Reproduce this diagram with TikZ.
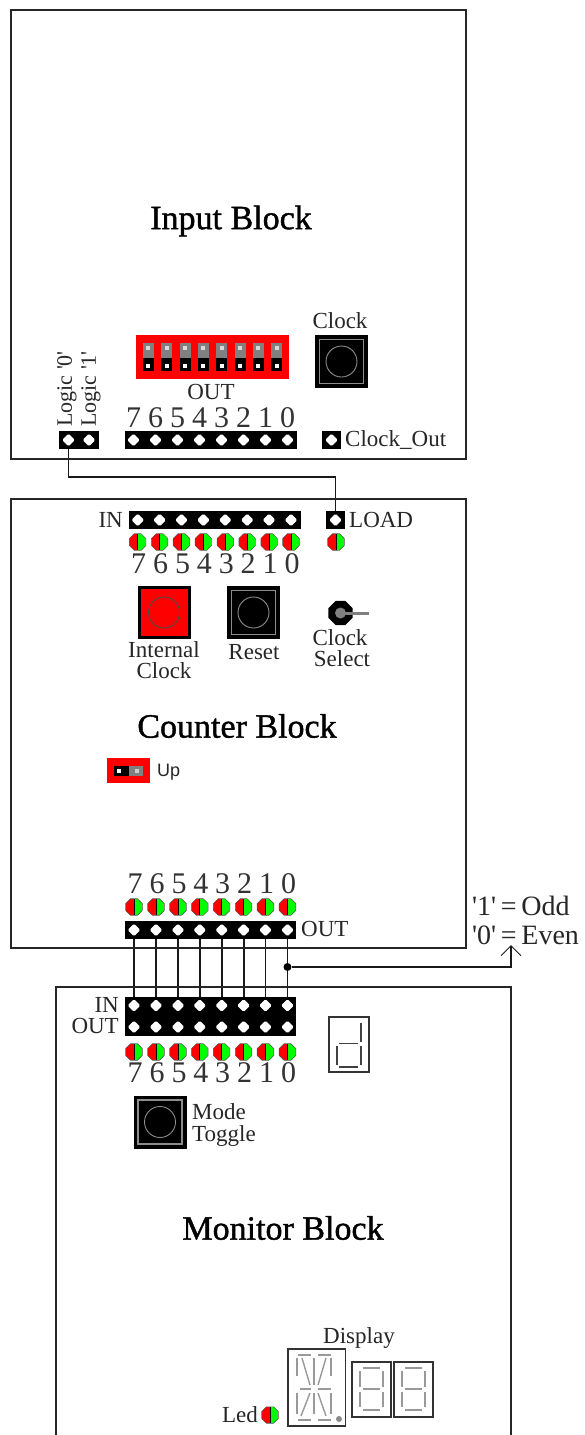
\documentclass[tikz,border=0pt]{standalone}
\usepackage{fontspec}
\setmainfont{Liberation Serif}
\newfontfamily\upfont{Liberation Sans}
\newfontfamily\titlefont[FakeBold=1.2]{Liberation Serif}
\usepackage{xcolor}
\usetikzlibrary{positioning,shapes.geometric,arrows.meta,backgrounds}

\begin{document}
\begin{tikzpicture}[
    x=1pt, y=-1pt,
    blk/.style    = {draw=black!85, line width=1.6pt},
    wire/.style   = {draw=black!90, line width=1.8pt},
    title/.style  = {font=\fontsize{34}{35}\titlefont, inner sep=0pt},
    lbl/.style    = {font=\fontsize{23}{24}\selectfont, inner sep=0pt, text=black!85},
    digit/.style  = {font=\fontsize{30}{30}\selectfont, inner sep=0pt, text=black!80},
    hdr/.style    = {rectangle, fill=black, inner sep=0pt, minimum height=18.5pt},
    pin/.style    = {diamond, fill=white, inner sep=0pt, minimum width=13pt, minimum height=13pt, rounded corners=1.5pt},
    led/.style    = {regular polygon, regular polygon sides=8, draw=black!70, line width=0.4pt,
                     inner sep=0pt, minimum size=18pt, path picture={
                       \fill[red] (path picture bounding box.south west) rectangle (path picture bounding box.north);
                       \fill[green] (path picture bounding box.south) rectangle (path picture bounding box.north east);
                       \draw[black, line width=1pt] (path picture bounding box.south) -- (path picture bounding box.north);}},
    btn/.style    = {rectangle, fill=black, inner sep=0pt, minimum size=53pt},
    frm/.style    = {rectangle, draw=black!45, line width=1.3pt, inner sep=0pt, minimum size=44pt},
    knob/.style   = {circle, draw=black!45, line width=0.9pt, inner sep=0pt, minimum size=31pt},
    seg/.style    = {draw=black!40, line width=1.4pt},
    onseg/.style  = {draw=black!75, line width=1.3pt},
    disp/.style   = {rectangle, draw=black!80, line width=1.4pt, inner sep=0pt},
]
\useasboundingbox (0,0) rectangle (584,1435);

%======== INPUT BLOCK ========
\node[blk, rectangle, inner sep=0pt, minimum width=455pt, minimum height=449pt] (inputblk) at (238.5,234.5) {};
\node[title] (inputttl) at (231,221) {Input Block};

% --- dip switches
\node[rectangle, fill=red, inner sep=0pt, minimum width=153pt, minimum height=44pt] (dipsw) at (212.5,357) {};
\foreach \x/\t in {148.3/7, 166.7/6, 185/5, 203.3/4, 221.7/3, 240/2, 258.3/1, 276.7/0} {
  \fill[black!50] (\x-5.5,343) rectangle (\x+5.5,358);
  \fill[black] (\x-5.5,358) rectangle (\x+5.5,371);
  \node[rectangle, fill=white!85!black, inner sep=0pt, minimum size=4pt] (diptop\t) at (\x,348) {};
  \node[rectangle, fill=white, inner sep=0pt, minimum size=4pt] (dipbot\t) at (\x,366) {};
}

% --- push buttons
\foreach \n/\x/\y in {clock/341.5/361.5, reset/253.5/612.5, mode/160/1122} {
  \node[btn] (\n btn) at (\x,\y) {};
  \node[frm] (\n frm) at (\x,\y) {};
  \node[knob] (\n knob) at (\x,\y) {};
}
\node[lbl] (clocklbl) at (340,321) {Clock};

% --- logic pins and out header
\node[hdr, minimum width=40pt] (logichdr) at (79,440) {};
\node[pin] (logicpin0) at (68.5,440) {};
\node[pin] (logicpin1) at (89,440) {};
\node[lbl, font=\fontsize{22}{22}\selectfont, rotate=90, anchor=west] (logiclbl0) at (67,427) {Logic \textquotesingle0\textquotesingle};
\node[lbl, font=\fontsize{22}{22}\selectfont, rotate=90, anchor=west] (logiclbl1) at (91,427) {Logic \textquotesingle1\textquotesingle};

\node[lbl] (inoutlbl) at (211,392) {OUT};
\node[hdr, minimum width=172pt] (inouthdr) at (211,440) {};
\foreach \x/\t in {133.5/7, 155.5/6, 177.5/5, 199.5/4, 221.5/3, 243.5/2, 265.5/1, 287.5/0} {
  \node[pin] (inoutpin\t) at (\x,440) {};
  \node[digit] (inoutnum\t) at (\x,418) {\t};
}

\node[hdr, minimum width=18.5pt] (clkouthdr) at (331.5,440) {};
\node[pin] (clkoutpin) at (331.5,440) {};
\node[lbl, anchor=west] (clkoutlbl) at (345,440) {Clock\_Out};

%======== COUNTER BLOCK ========
\node[blk, rectangle, inner sep=0pt, minimum width=455pt, minimum height=449pt] (countblk) at (238.5,723.5) {};
\node[title] (countttl) at (237,726) {Counter Block};

% --- in header
\node[lbl, anchor=east] (cinlbl) at (123,520) {IN};
\node[hdr, minimum width=172pt] (cinhdr) at (214.5,520) {};
\foreach \x/\t in {137.7/7, 159.6/6, 181.5/5, 203.4/4, 225.3/3, 247.2/2, 269.1/1, 291/0} {
  \node[pin] (cinpin\t) at (\x,520) {};
  \node[led] (cinled\t) at (\x,542) {};
  \node[digit] (cinnum\t) at (\x+1,564) {\t};
}

\node[hdr, minimum width=18.5pt] (loadhdr) at (335.5,520) {};
\node[pin] (loadpin) at (335.5,520) {};
\node[lbl, anchor=west] (loadlbl) at (349,520) {LOAD};
\node[led] (loadled) at (336,542) {};

% --- internal clock button
\node[btn] (intbtn) at (164,612.5) {};
\node[rectangle, fill=red, inner sep=0pt, minimum size=47pt] (intfill) at (164,612.5) {};
\node[knob, draw=black!70] (intknob) at (164,612.5) {};
\node[lbl] (intlbl1) at (164,650) {Internal};
\node[lbl] (intlbl2) at (164,671) {Clock};
\node[lbl] (resetlbl) at (254,652) {Reset};

% --- clock select switch
\node[regular polygon, regular polygon sides=8, fill=black, inner sep=0pt, minimum size=26pt] (selsw) at (340.5,613) {};
\node[circle, fill=black!50, inner sep=0pt, minimum size=11pt] (seldot) at (340.5,613) {};
\draw[black!50, line width=3pt] (seldot.center) -- (369,613);
\node[lbl] (sellbl1) at (340,638) {Clock};
\node[lbl] (sellbl2) at (342,659) {Select};

% --- up jumper
\node[rectangle, fill=red, inner sep=0pt, minimum width=43.5pt, minimum height=25pt] (upjmp) at (128.5,770.5) {};
\fill[black] (114,766) rectangle (128.5,776);
\fill[black!50] (128.5,766) rectangle (143,776);
\node[rectangle, fill=white, inner sep=0pt, minimum size=4pt] (uppin1) at (119,771) {};
\node[rectangle, fill=black!20, inner sep=0pt, minimum size=4pt] (uppin2) at (137,771) {};
\node[inner sep=0pt, anchor=west, font=\fontsize{18}{18}\upfont, text=black!85] (uplbl) at (157,772) {Up};

% --- out header
\node[lbl, anchor=west] (coutlbl) at (301,929) {OUT};
\node[hdr, minimum width=171.5pt] (couthdr) at (210.5,930) {};
\foreach \x/\t in {134/7, 156/6, 178/5, 199.8/4, 221.7/3, 243.6/2, 265.5/1, 287.5/0} {
  \node[pin] (coutpin\t) at (\x,930) {};
  \node[led] (coutled\t) at (\x,907) {};
  \node[digit] (coutnum\t) at (\x+1,884) {\t};
}

%======== MONITOR BLOCK ========
\draw[blk] (56,1435) -- (56,987) -- (511,987) -- (511,1435);
\node[title] (monttl) at (283,1228) {Monitor Block};

\node[lbl, anchor=east] (minlbl) at (119,1005) {IN};
\node[lbl, anchor=east] (moutlbl) at (119,1026) {OUT};
\node[hdr, minimum width=171.5pt, minimum height=39.5pt] (monhdr) at (210.5,1016.5) {};
\foreach \x/\t in {134/7, 156/6, 178/5, 199.8/4, 221.7/3, 243.6/2, 265.5/1, 287.5/0} {
  \node[pin] (minpin\t) at (\x,1005.5) {};
  \node[pin] (moutpin\t) at (\x,1027) {};
  \node[led] (monled\t) at (\x,1052) {};
  \node[digit] (monnum\t) at (\x+1,1073) {\t};
}

\node[lbl, anchor=west] (modelbl1) at (192,1112) {Mode};
\node[lbl, anchor=west] (modelbl2) at (192,1136) {Toggle};

% --- single digit showing d
\node[disp, minimum width=40pt, minimum height=55pt] (ddigit) at (349,1044.5) {};
\draw[onseg] (361,1023) -- (361,1042);
\draw[onseg] (361,1046) -- (361,1065);
\draw[onseg] (337,1046) -- (337,1065);
\draw[onseg] (339,1043.5) -- (358,1043.5);
\draw[onseg] (339,1067) -- (358,1067);

% --- display
\node[lbl] (displbl) at (359,1338) {Display};
\node[disp, minimum width=57.5pt, minimum height=77pt] (bigdisp) at (316.8,1387.5) {};
\begin{scope}[shift={(288pt,-1349pt)}]
  \foreach \a/\b/\c/\d in {9/9/9/27, 9/44/9/65, 26/9/26/36, 26/44/26/65, 43/9/43/27, 43/44/43/65,
      10/6/23/6, 30/6/43/6, 12/40/23/40, 30/40/43/40, 10/71/23/71, 30/71/43/71,
      14/9/22/36, 38/9/30/36, 22/44/13/67, 30/44/38/67}
    \draw[seg] (\a,\b) -- (\c,\d);
  \fill[black!45] (51,70) circle (3);
\end{scope}
\node[disp, minimum width=39pt, minimum height=55pt] (smalldisp1) at (371.5,1389.5) {};
\node[disp, minimum width=39pt, minimum height=55pt] (smalldisp2) at (413.5,1389.5) {};
\foreach \ox in {352,394} {
  \begin{scope}[shift={(\ox pt,-1362pt)}]
    \foreach \a/\b/\c/\d in {8/9/8/25, 8/30/8/45, 31/9/31/25, 31/30/31/45, 11/6/28/6, 11/27/28/27, 11/48/28/48}
      \draw[seg] (\a,\b) -- (\c,\d);
  \end{scope}
}

\node[lbl, anchor=east] (ledlbl) at (258,1415) {Led};
\node[led] (dispfled) at (270,1415) {};

%======== PARITY NOTE ========
\node[lbl, font=\fontsize{28}{28}\selectfont, anchor=west] (oddlbl) at (472,906) {\textquotesingle1\textquotesingle\,=\,Odd};
\node[lbl, font=\fontsize{28}{28}\selectfont, anchor=west] (evenlbl) at (472,935) {\textquotesingle0\textquotesingle\,=\,Even};

%======== WIRES ========
\coordinate (loadbend) at (200,477);
\coordinate (paritytip) at (511,945);
\node[circle, fill=black, inner sep=0pt, minimum size=8pt] (parityjct) at (287.5,967) {};
\begin{pgfonlayer}{background}
  \draw[wire] (logicpin0) |- (loadbend) -| (loadpin);
  \foreach \t in {0,...,7} \draw[wire] (coutpin\t) -- (minpin\t);
  \draw[wire, -{Straight Barb[length=10pt,width=20pt,line width=1pt]}] (parityjct) -| (paritytip);
\end{pgfonlayer}

\end{tikzpicture}
\end{document}
